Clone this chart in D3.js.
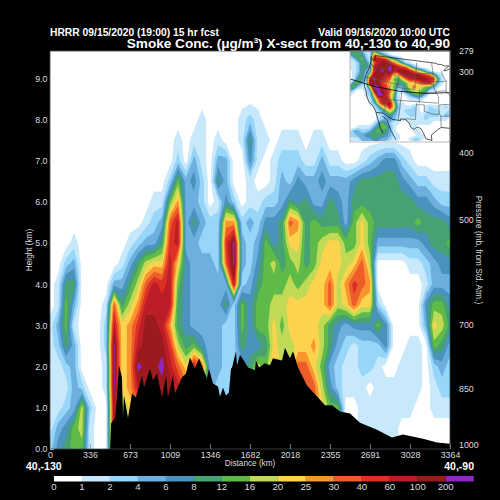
<!DOCTYPE html>
<html>
<head>
<meta charset="utf-8">
<script src="https://cdn.jsdelivr.net/npm/d3@7"></script>
<style>
body { margin: 0; background: #000; }
text { font-family: "Liberation Sans", Arial, sans-serif; }
</style>
</head>
<body>
<svg id="chart" width="500" height="500"></svg>
<script>
"use strict"

// colour bar classes
let levels = [0, 1, 2, 4, 6, 8, 12, 16, 20, 25, 30, 40, 60, 100, 200]
let colors = ["#ffffff", "#c8e9fb", "#97d6f8", "#6db0e0", "#4a93bd", "#46a173", "#5fbb47", "#c0da55",
    "#fdd34d", "#f9952f", "#ee5c29", "#dc3027", "#bb1e26", "#9a1a1e", "#8f26ca"]

// axis labels
let distTicks = [0, 336, 673, 1009, 1346, 1682, 2018, 2355, 2691, 3028, 3364]
let heightTicks = [0, 1, 2, 3, 4, 5, 6, 7, 8, 9]
let pressureLabels = [279, 300, 400, 500, 700, 850, 1000]
let pressureHeights = [9.65, 9.16, 7.19, 5.57, 3.01, 1.46, 0.11]

// smoke concentration read off the section, one row per 0.5 km from the ground up,
// one column per 67.28 km
let colKm = 67.28
let rowKm = 0.5
let smokeRows = [
    [3,7,10,14,14,1.5,.5,.5, 150,14,22,35,150,150,150,150,80,35, 35,22,5,3,3,5,5,10,18,14, 27,18,18,35,35,35,18,14,14,.5, .5,1.5,1.5,1.5,1.5,1.5,.5,.5,.5,.5, .5,.5,.5],
    [1.5,5,7,14,18,1.5,.5,.5, 150,14,22,35,150,150,150,150,80,35, 35,22,5,3,3,5,5,10,18,14, 27,18,18,35,35,35,22,14,14,.5, .5,1.5,1.5,1.5,1.5,1.5,.5,.5,.5,.5, .5,.5,.5],
    [1.5,1.5,3,5,18,3,.5,.5, 150,14,22,35,150,150,150,150,80,35, 35,22,5,3,3,5,5,10,18,14, 27,18,18,35,35,35,22,14,14,.5, .5,1.5,1.5,1.5,1.5,1.5,1.5,1.5,.5,.5, 1.5,1.5,1.5],
    [1.5,1.5,1.5,5,3,.5,.5,1.5, 300,22,27,80,150,150,150,150,80,35, 35,22,5,3,3,5,5,10,18,14, 27,18,18,35,35,35,18,7,3,1.5, 1.5,1.5,.5,1.5,1.5,1.5,1.5,1.5,1.5,.5, 1.5,3,3],
    [1.5,1.5,3,5,.5,.5,.5,1.5, 300,22,27,300,150,150,300,80,35,22, 80,35,5,5,3,3,5,10,18,14, 27,18,18,35,35,22,14,5,3,1.5, 1.5,3,3,1.5,.5,.5,1.5,1.5,1.5,.5, 3,5,3],
    [1.5,3,10,5,.5,.5,.5,3, 300,22,27,80,150,150,150,50,18,10, 14,7,5,5,3,3,10,7,7,10, 22,18,18,22,22,27,18,10,5,3, 1.5,3,3,3,7,.5,.5,1.5,1.5,.5, 14,10,5],
    [1.5,5,14,1.5,.5,.5,.5,3, 80,22,27,50,150,150,80,27,10,7, 5,5,5,5,3,3,14,7,14,14, 22,14,22,22,22,22,18,10,7,5, 7,7,7,14,7,.5,.5,.5,.5,5, 22,18,10],
    [.5,1.5,14,5,.5,.5,.5,1.5, 35,10,18,27,80,80,80,80,10,7, 5,5,5,5,10,3,14,7,14,14, 18,18,22,22,22,22,22,35,18,22, 35,22,22,3,.5,.5,.5,.5,.5,7, 14,14,7],
    [.5,1.5,10,10,.5,.5,.5,.5, 5,5,10,18,35,80,50,80,14,7, 5,5,5,5,5,80,3,5,10,14, 14,14,18,14,18,22,22,35,18,27, 50,35,27,.5,.5,.5,.5,.5,.5,1.5, 5,5,5],
    [.5,.5,3,5,.5,.5,.5,.5, .5,1.5,5,10,18,22,22,80,22,7, 5,5,5,3,35,300,5,3,7,14, 18,10,14,18,10,14,22,22,22,18, 22,35,18,.5,.5,.5,.5,1.5,1.5,3, 5,7,7],
    [.5,.5,.5,1.5,.5,.5,.5,.5, .5,.5,1.5,3,5,5,10,50,80,5, 5,3,3,3,50,300,5,3,5,14, 7,10,22,22,10,14,18,22,22,14, 14,22,14,5,5,5,5,5,5,7, 10,10,14],
    [.5,.5,.5,.5,.5,.5,.5,.5, .5,.5,.5,.5,1.5,3,5,35,80,5, 10,5,3,3,27,27,3,5,3,7, 7,10,35,27,10,14,10,10,10,5, 14,22,14,10,10,10,10,10,14,10, 10,10,7],
    [.5,.5,.5,.5,.5,.5,.5,.5, .5,.5,.5,.5,.5,1.5,1.5,14,27,5, 5,3,.5,1.5,7,3,.5,1.5,1.5,3, 3,5,10,7,10,5,5,10,7,5, 10,10,10,10,10,10,10,10,7,7, 5,3,3],
    [.5,.5,.5,.5,.5,.5,.5,.5, .5,.5,.5,.5,.5,.5,.5,3,14,5, 7,3,.5,10,5,.5,.5,1.5,.5,.5, 1.5,5,3,7,5,5,7,5,5,5, 7,10,10,10,10,10,7,5,3,3, 1.5,1.5,1.5],
    [.5,.5,.5,.5,.5,.5,.5,.5, .5,.5,.5,.5,.5,.5,.5,.5,3,.5, 5,1.5,.5,5,5,.5,.5,7,1.5,.5, 1.5,3,3,3,1.5,1.5,5,1.5,1.5,.5, .5,1.5,3,5,7,7,3,1.5,.5,.5, .5,.5,.5],
    [.5,.5,.5,.5,.5,.5,.5,.5, .5,.5,.5,.5,.5,.5,.5,.5,1.5,.5, 1.5,1.5,.5,1.5,.5,.5,1.5,10,1.5,1.5, .5,1.5,1.5,1.5,.5,1.5,1.5,.5,.5,.5, .5,.5,.5,.5,.5,.5,.5,.5,.5,.5, .5,.5,.5],
    [.5,.5,.5,.5,.5,.5,.5,.5, .5,.5,.5,.5,.5,.5,.5,.5,.5,.5, .5,1.5,.5,.5,.5,.5,1.5,3,1.5,.5, .5,.5,.5,.5,.5,.5,.5,.5,.5,.5, .5,.5,.5,.5,.5,.5,.5,.5,.5,.5, .5,.5,.5],
    [.5,.5,.5,.5,.5,.5,.5,.5, .5,.5,.5,.5,.5,.5,.5,.5,.5,.5, .5,.5,.5,.5,.5,.5,.5,.5,.5,.5, .5,.5,.5,.5,.5,.5,.5,.5,.5,.5, .5,.5,.5,.5,.5,.5,.5,.5,.5,.5, .5,.5,.5]
]

// ground height along the section
let terrainDist = [0, 505, 513, 530, 547, 563, 580, 605, 614, 622, 656, 690, 723, 774, 791, 841, 866, 900, 942, 976, 992,
    1034, 1051, 1110, 1144, 1177, 1219, 1253, 1320, 1337, 1371, 1413, 1430, 1455, 1480, 1505, 1522, 1531, 1564, 1573, 1598,
    1640, 1665, 1724, 1732, 1758, 1808, 1850, 1875, 1951, 1976, 2018, 2044, 2086, 2161, 2254, 2313, 2372, 2439, 2523, 2607,
    2750, 2876, 2968, 3137, 3255, 3364]
let terrainHeight = [0, 0, .62, .69, .74, 1.30, 2.03, 1.74, .76, 1.30, .76, 1.35, 1.25, 1.78, 1.49, 1.95, 1.66, 1.83, 1.25, 1.78, 1.25,
    1.78, 1.35, 1.74, 1.83, 2.22, 1.95, 2.20, 1.71, 1.95, 1.59, 1.52, 1.27, 1.49, 1.30, 1.37, 1.95, 1.98, 2.37, 2.03, 2.29,
    2.10, 1.98, 1.91, 2.15, 1.98, 2.08, 2.03, 2.20, 2.15, 2.46, 2.20, 2.37, 1.98, 1.54, 1.25, 1.06, 1.06, .91, .86, .64,
    .47, .28, .35, .25, .16, .13]

// near-surface smoke on the little map, 26 columns by 23 rows from the top
let mapRows = [
    [10,10,10,5,1.5,3,10,5,1.5,.5,.5,.5,.5,.5,.5,.5,.5,.5,.5,.5,.5,.5,.5,.5,.5,.5],
    [5,14,10,10,3,1.5,35,22,10,5,1.5,.5,.5,.5,.5,.5,.5,.5,.5,.5,.5,.5,.5,.5,.5,.5],
    [1.5,3,10,14,5,1.5,80,80,80,50,18,10,5,1.5,.5,.5,.5,.5,.5,.5,.5,.5,.5,.5,.5,.5],
    [1.5,1.5,3,10,10,3,35,80,150,150,80,35,22,10,3,1.5,.5,.5,.5,.5,.5,.5,.5,.5,.5,.5],
    [1.5,1.5,3,10,10,5,80,150,150,150,300,150,80,50,35,14,5,1.5,.5,.5,.5,.5,.5,.5,.5,.5],
    [.5,1.5,3,10,5,5,80,150,300,150,300,80,150,150,150,80,35,22,14,5,1.5,.5,.5,.5,.5,.5],
    [.5,1.5,5,10,3,22,150,150,150,80,80,22,22,80,150,150,150,150,80,50,35,14,3,1.5,.5,.5],
    [.5,1.5,10,10,3,80,300,150,80,50,35,14,10,18,35,80,80,150,150,150,80,50,10,1.5,.5,.5],
    [1.5,10,14,5,1.5,300,150,150,50,35,22,18,10,10,14,22,22,27,50,80,80,27,5,1.5,.5,.5],
    [10,14,3,1.5,1.5,22,300,300,80,50,22,14,5,5,10,22,35,22,18,14,10,5,1.5,.5,.5,.5],
    [5,1.5,.5,.5,1.5,5,80,300,150,80,35,18,1.5,1.5,10,14,18,18,14,10,1.5,1.5,.5,.5,.5,.5],
    [1.5,.5,.5,.5,1.5,3,22,300,300,80,27,14,1.5,.5,1.5,5,10,14,10,3,.5,.5,.5,.5,.5,.5],
    [.5,.5,.5,.5,.5,1.5,10,35,80,150,35,10,1.5,.5,.5,1.5,1.5,3,1.5,.5,.5,.5,.5,.5,.5,.5],
    [.5,.5,.5,.5,.5,1.5,5,22,80,80,150,18,3,1.5,.5,.5,.5,.5,.5,.5,.5,.5,.5,.5,.5,.5],
    [.5,.5,.5,.5,.5,.5,1.5,5,18,27,80,22,5,1.5,1.5,1.5,3,1.5,.5,1.5,3,1.5,1.5,1.5,3,1.5],
    [.5,.5,.5,.5,.5,.5,.5,3,5,14,22,14,3,1.5,3,3,3,1.5,.5,1.5,3,3,3,1.5,1.5,3],
    [.5,.5,.5,.5,.5,.5,.5,1.5,3,5,10,5,3,1.5,1.5,3,3,1.5,1.5,3,3,3,3,1.5,5,3],
    [.5,.5,.5,.5,.5,.5,.5,1.5,3,5,7,5,1.5,1.5,1.5,1.5,1.5,1.5,1.5,3,1.5,1.5,1.5,1.5,1.5,.5],
    [.5,.5,.5,.5,.5,.5,1.5,5,14,7,3,1.5,1.5,.5,.5,1.5,1.5,1.5,1.5,1.5,1.5,.5,.5,.5,.5,.5],
    [.5,.5,1.5,1.5,1.5,1.5,5,10,14,14,5,1.5,.5,.5,.5,.5,1.5,.5,.5,.5,.5,.5,.5,.5,.5,.5],
    [1.5,5,5,3,3,5,10,14,10,10,5,1.5,.5,.5,.5,.5,1.5,1.5,.5,.5,.5,.5,.5,.5,.5,.5],
    [3,3,5,5,7,10,10,10,10,7,5,1.5,1.5,.5,.5,.5,.5,1.5,1.5,.5,.5,.5,.5,.5,.5,.5],
    [1.5,1.5,1.5,5,5,5,10,7,5,5,3,1.5,1.5,.5,.5,1.5,3,3,1.5,.5,.5,.5,.5,.5,.5,.5]
]

// map outlines as lon,lat
let sectionLine = [[-130, 40], [-120, 40], [-110, 40], [-100, 40], [-90, 40]]
let borderLines = [
    [[-124.7, 48.4], [-124.1, 46.9], [-124, 44.8], [-124.5, 42.8], [-124.3, 40.4], [-123.8, 39.3], [-122.5, 37.8], [-121.9, 36.6],
        [-120.6, 35.1], [-118.5, 34], [-117.2, 32.5], [-116, 30.5], [-114.8, 28.5], [-113.5, 26.8]],
    [[-123, 49], [-122.6, 48], [-123.1, 47.3], [-124.7, 48.4]],
    [[-123, 49], [-95.2, 49], [-94.6, 48.7], [-93, 48.6], [-91.5, 48.1], [-89.6, 48], [-92, 46.7], [-90.5, 46.8], [-88.5, 47.3]],
    [[-117.1, 32.5], [-114.7, 32.7], [-111, 31.3], [-108.2, 31.3], [-108.2, 31.8], [-106.5, 31.8], [-104.9, 30.6], [-104.5, 29.6],
        [-103.2, 29], [-102.4, 29.8], [-101, 29.4], [-100, 28], [-99.2, 26.4], [-97.2, 25.9], [-97.4, 27.5], [-95, 29.2], [-94, 29.7], [-91, 29.3], [-89.5, 29.2]],
    [[-114.8, 31.8], [-113, 31], [-111, 28], [-109, 25.5]]
]
let stateLines = [
    [[-124, 46.2], [-123, 46.1], [-122.8, 45.6], [-121, 45.7], [-119, 45.9], [-116.9, 46]],
    [[-117, 49], [-117, 46.4], [-116.9, 46], [-116.5, 45.5], [-117, 44.3], [-117, 42]],
    [[-124.2, 42], [-111, 42]],
    [[-120, 42], [-120, 39], [-114.6, 35], [-114.2, 34.3], [-114.7, 32.7]],
    [[-114, 42], [-114, 37], [-114.7, 36.1], [-114.6, 35]],
    [[-114, 37], [-94.6, 37]],
    [[-111, 45], [-104, 45], [-104, 41], [-111, 41], [-111, 45]],
    [[-111, 41], [-111, 42]],
    [[-109, 41], [-109, 31.3]],
    [[-116, 49], [-116, 47.9], [-114.6, 46.6], [-114.4, 45.5], [-113.5, 45.1], [-112.8, 44.4], [-111, 44.5]],
    [[-104, 49], [-104, 45]],
    [[-104, 45.9], [-96.6, 45.9]],
    [[-104, 43], [-98.5, 43], [-96.5, 42.5]],
    [[-102, 41], [-102, 37]],
    [[-102, 40], [-95.3, 40]],
    [[-103, 37], [-103, 32], [-106.6, 32]],
    [[-103, 36.5], [-100, 36.5], [-100, 34.6], [-97, 33.8], [-94.5, 33.6], [-94.6, 36.5]],
    [[-94.6, 36.5], [-90, 36.5]],
    [[-94.6, 37], [-94.6, 39.1], [-95.3, 40], [-95.8, 40.6], [-96.5, 42.5], [-96.5, 43.5], [-96.6, 45.9], [-97.2, 49]],
    [[-95.8, 40.6], [-91.5, 40.6]],
    [[-96.5, 43.5], [-91.2, 43.5]],
    [[-92.8, 46.7], [-92.8, 45.5], [-91.2, 43.5], [-91.5, 40.6], [-90, 38.8]],
    [[-94, 33.6], [-94, 29.7]],
    [[-94, 33], [-91, 33], [-90, 35]]
]

let svg = d3.select("#chart")
let plot = { left: 50, right: 450, top: 51, bottom: 449 }
let inset = { left: 350, right: 450, top: 51, bottom: 142 }

let xScale = d3.scaleLinear().domain([0, 3364]).range([plot.left, plot.right])
let yScale = d3.scaleLinear().domain([0, 9.66]).range([plot.bottom, plot.top])
// turns a concentration into its place on the colour bar
let classScale = d3.scaleLinear().domain(levels.concat([400])).range(d3.range(16))

let defs = svg.append("defs")
defs.append("clipPath").attr("id", "plotClip").append("rect")
    .attr("x", plot.left).attr("y", plot.top)
    .attr("width", plot.right - plot.left).attr("height", plot.bottom - plot.top)
defs.append("clipPath").attr("id", "insetClip").append("rect")
    .attr("x", inset.left).attr("y", inset.top)
    .attr("width", inset.right - inset.left).attr("height", inset.bottom - inset.top)

function drawField(group, rows, toX, toY) {
    let height = rows.length
    let width = rows[0].length
    let flat = d3.merge(rows).map(function(d) { return classScale(d) })
    let contours = d3.contours().size([width, height]).thresholds(d3.range(1, 15))(flat)
    let path = d3.geoPath(d3.geoTransform({
        point: function(x, y) { this.stream.point(toX(x - 0.5), toY(y - 0.5)) }
    }))
    group.selectAll("path").data(contours).enter().append("path")
        .attr("d", path)
        .attr("fill", function(d) { return colors[d.value] })
}

// the section
svg.append("rect")
    .attr("x", plot.left).attr("y", plot.top)
    .attr("width", plot.right - plot.left).attr("height", plot.bottom - plot.top)
    .attr("fill", "#fff")

let field = svg.append("g").attr("clip-path", "url(#plotClip)")
drawField(field.append("g"), smokeRows,
    function(i) { return xScale(i * colKm) },
    function(j) { return yScale(j * rowKm) })

let terrainArea = d3.area()
    .x(function(d, i) { return xScale(d) })
    .y0(plot.bottom)
    .y1(function(d, i) { return yScale(terrainHeight[i]) })
field.append("path").datum(terrainDist).attr("d", terrainArea).attr("fill", "#000")

// the little map
let mapBox = svg.append("g").attr("clip-path", "url(#insetClip)")
mapBox.append("rect")
    .attr("x", inset.left).attr("y", inset.top)
    .attr("width", inset.right - inset.left).attr("height", inset.bottom - inset.top)
    .attr("fill", "#fff")

let mapX = d3.scaleLinear().domain([0, 25]).range([inset.left, inset.right])
let mapY = d3.scaleLinear().domain([0, 22]).range([inset.top, inset.top + 88])
drawField(mapBox.append("g"), mapRows, mapX, mapY)

let projection = d3.geoConicConformal()
    .parallels([38.5, 38.5])
    .rotate([97.5, 0])
    .center([0, 40])
    .scale(190)
    .translate([431, 93.4])
let geoLine = d3.geoPath(projection)

mapBox.append("g").selectAll("path").data(stateLines).enter().append("path")
    .attr("d", function(d) { return geoLine({ type: "LineString", coordinates: d }) })
    .attr("fill", "none").attr("stroke", "#555").attr("stroke-width", 0.6)
mapBox.append("g").selectAll("path").data(borderLines).enter().append("path")
    .attr("d", function(d) { return geoLine({ type: "LineString", coordinates: d }) })
    .attr("fill", "none").attr("stroke", "#111").attr("stroke-width", 0.7)
mapBox.append("path")
    .attr("d", geoLine({ type: "LineString", coordinates: sectionLine }))
    .attr("fill", "none").attr("stroke", "#000").attr("stroke-width", 0.8)

svg.append("rect")
    .attr("x", inset.left).attr("y", inset.top)
    .attr("width", inset.right - inset.left).attr("height", inset.bottom - inset.top)
    .attr("fill", "none").attr("stroke", "#bbb").attr("stroke-width", 1)

// frame
svg.append("rect")
    .attr("x", plot.left).attr("y", plot.top)
    .attr("width", plot.right - plot.left).attr("height", plot.bottom - plot.top)
    .attr("fill", "none").attr("stroke", "#3d4a52").attr("stroke-width", 0.8)

// axes
let bottomAxis = d3.axisBottom(xScale).tickValues(distTicks).tickSizeInner(-5).tickSizeOuter(0)
    .tickFormat(d3.format("d"))
let gBottom = svg.append("g").attr("transform", "translate(0," + plot.bottom + ")").call(bottomAxis)
gBottom.select(".domain").remove()
gBottom.selectAll("line").attr("stroke", "#8a8f92").attr("stroke-width", 0.8)
gBottom.selectAll("text").attr("y", 6).attr("dy", ".32em")
    .attr("font-size", 8.8).attr("fill", "#dcdcdc")

let leftAxis = d3.axisLeft(yScale).tickValues(heightTicks).tickSizeInner(-4).tickSizeOuter(0)
    .tickFormat(d3.format(".1f"))
let gLeft = svg.append("g").attr("transform", "translate(" + plot.left + ",0)").call(leftAxis)
gLeft.select(".domain").remove()
gLeft.selectAll("line").attr("stroke", "#d6e4ea").attr("stroke-width", 0.7)
gLeft.selectAll("text").attr("x", -2.5).attr("font-size", 8.8).attr("fill", "#dcdcdc")

svg.append("g").selectAll("text").data(pressureLabels).enter().append("text")
    .attr("x", 459)
    .attr("y", function(d, i) { return yScale(pressureHeights[i]) })
    .attr("dy", ".35em")
    .attr("font-size", 8.8).attr("fill", "#dcdcdc")
    .text(function(d) { return d })

svg.append("text").attr("transform", "translate(32,250) rotate(-90)")
    .attr("text-anchor", "middle").attr("font-size", 8.2).attr("fill", "#dcdcdc").text("Height (km)")
svg.append("text").attr("transform", "translate(476,250) rotate(90)")
    .attr("text-anchor", "middle").attr("font-size", 8.2).attr("fill", "#dcdcdc").text("Pressure (mb, from Std. Atm.)")
svg.append("text").attr("x", 250).attr("y", 466)
    .attr("text-anchor", "middle").attr("font-size", 8.2).attr("fill", "#dcdcdc").text("Distance (km)")

// titles
svg.append("text").attr("x", 50).attr("y", 36)
    .attr("font-size", 10.3).attr("font-weight", "bold").attr("fill", "#fff")
    .text("HRRR 09/15/2020 (19:00) 15 hr fcst")
svg.append("text").attr("x", 450).attr("y", 36).attr("text-anchor", "end")
    .attr("font-size", 10.3).attr("font-weight", "bold").attr("fill", "#fff")
    .text("Valid 09/16/2020 10:00 UTC")
let mainTitle = svg.append("text").attr("x", 450).attr("y", 48).attr("text-anchor", "end")
    .attr("font-size", 13.6).attr("font-weight", "bold").attr("fill", "#fff")
mainTitle.append("tspan").text("Smoke Conc. (\u03bcg/m")
mainTitle.append("tspan").attr("font-size", 8).attr("dy", -5).text("3")
mainTitle.append("tspan").attr("dy", 5).text(") X-sect from 40,-130 to 40,-90")

svg.append("text").attr("x", 26).attr("y", 470)
    .attr("font-size", 10.5).attr("font-weight", "bold").attr("fill", "#fff").text("40,-130")
svg.append("text").attr("x", 474).attr("y", 470).attr("text-anchor", "end")
    .attr("font-size", 10.5).attr("font-weight", "bold").attr("fill", "#fff").text("40,-90")

// colour bar
let barScale = d3.scaleLinear().domain([0, levels.length]).range([54, 473.7])
svg.append("g").selectAll("rect").data(colors).enter().append("rect")
    .attr("x", function(d, i) { return barScale(i) })
    .attr("y", 476)
    .attr("width", barScale(1) - barScale(0))
    .attr("height", 5.5)
    .attr("fill", function(d) { return d })
svg.append("g").selectAll("text").data(levels).enter().append("text")
    .attr("x", function(d, i) { return barScale(i) })
    .attr("y", 490)
    .attr("text-anchor", "middle")
    .attr("font-size", 9.6).attr("fill", "#dcdcdc")
    .text(function(d) { return d })
</script>
</body>
</html>
